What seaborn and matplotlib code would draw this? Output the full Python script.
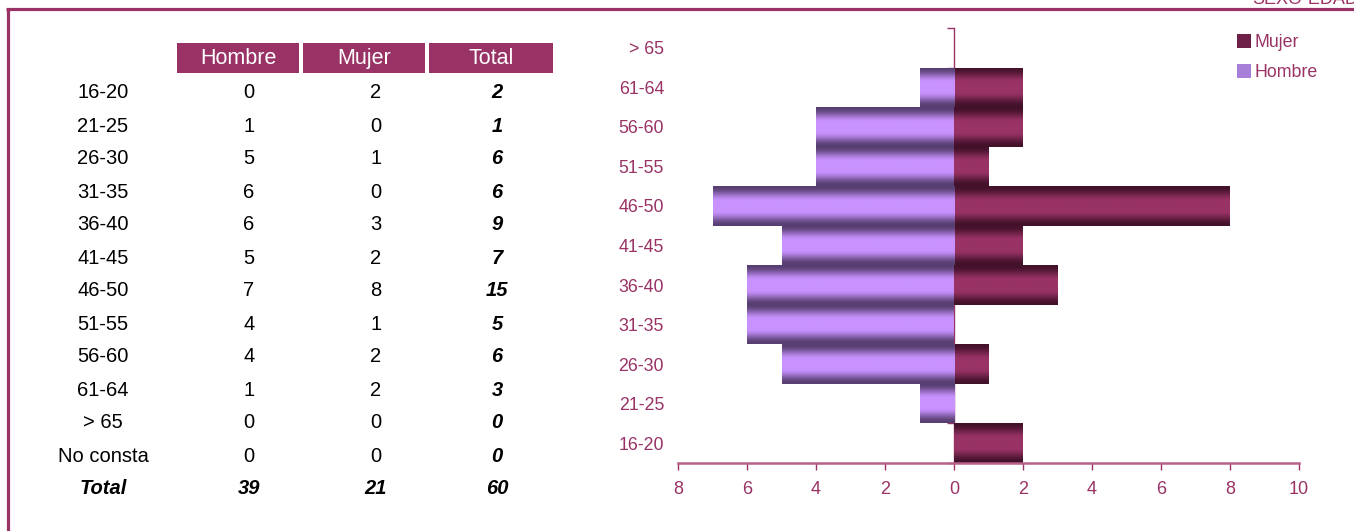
import numpy as np
import pandas as pd
import matplotlib
matplotlib.use("Agg")
import matplotlib.pyplot as plt
from matplotlib.patches import Rectangle
from matplotlib.lines import Line2D
from matplotlib.colors import to_rgb, to_hex
import seaborn as sns

# ---------------- data ----------------
edades = ["16-20", "21-25", "26-30", "31-35", "36-40", "41-45", "46-50",
          "51-55", "56-60", "61-64", "> 65", "No consta"]
hombres = [0, 1, 5, 6, 6, 5, 7, 4, 4, 1, 0, 0]
mujeres = [2, 0, 1, 0, 3, 2, 8, 1, 2, 2, 0, 0]
totales = [2, 1, 6, 6, 9, 7, 15, 5, 6, 3, 0, 0]
total_row = ["Total", 39, 21, 60]
columnas = ["Hombre", "Mujer", "Total"]
x_ticks = [-8, -6, -4, -2, 0, 2, 4, 6, 8, 10]

MAG = "#993366"
W, H = 1354, 531

sns.set_theme(style="white")
plt.rcParams["font.family"] = ["Liberation Sans", "DejaVu Sans"]

fig = plt.figure(figsize=(W / 100, H / 100), dpi=100)

def fx(px):
    return px / W

def fy(py):
    return 1 - py / H

# ---------------- frame ----------------
fig.add_artist(Line2D([fx(7.5), fx(7.5)], [0, fy(8.5)], color=MAG, lw=2.3,
                      transform=fig.transFigure, solid_capstyle="butt"))
fig.add_artist(Line2D([fx(6.3), 1], [fy(8.5), fy(8.5)], color=MAG, lw=2.3,
                      transform=fig.transFigure, solid_capstyle="butt"))
fig.text(fx(1252), fy(-1), "SEXO-EDAD", color=MAG, fontsize=13,
         ha="left", va="center")

# ---------------- table ----------------
box_x = [(177, 299), (303, 425), (429, 553)]
for (x0, x1), name in zip(box_x, columnas):
    fig.add_artist(Rectangle((fx(x0), fy(73)), (x1 - x0) / W, 30 / H,
                             transform=fig.transFigure, color=MAG, lw=0))
    fig.text(fx((x0 + x1) / 2), fy(58.5), name, color="white", fontsize=15.5,
             ha="center", va="center")

col_x = [103, 249, 376, 497]
row_y0, row_dy = 93, 33
for i, (e, h, m, t) in enumerate(zip(edades, hombres, mujeres, totales)):
    y = fy(row_y0 + i * row_dy)
    fig.text(fx(col_x[0]), y, e, fontsize=14.5, ha="center", va="center", color="black")
    fig.text(fx(col_x[1]), y, str(h), fontsize=14.5, ha="center", va="center", color="black")
    fig.text(fx(col_x[2]), y, str(m), fontsize=14.5, ha="center", va="center", color="black")
    fig.text(fx(col_x[3]), y, str(t), fontsize=14.5, ha="center", va="center",
             color="black", fontweight="bold", fontstyle="italic")
y = fy(row_y0 + len(edades) * row_dy)
for cx, v in zip(col_x, total_row):
    fig.text(fx(cx), y, str(v), fontsize=14.5, ha="center", va="center",
             color="black", fontweight="bold", fontstyle="italic")

# ---------------- pyramid chart ----------------
chart_ages = edades[:11]
df = pd.DataFrame({
    "Edad": chart_ages * 2,
    "Sexo": ["Mujer"] * 11 + ["Hombre"] * 11,
    "Valor": mujeres[:11] + [-v for v in hombres[:11]],
})
palette = {"Mujer": MAG, "Hombre": "#cc99ff"}
ax = fig.add_axes([fx(678), fy(463), (1299 - 678) / W, (463 - 28) / H])
sns.barplot(data=df, x="Valor", y="Edad", hue="Sexo", order=chart_ages[::-1],
            hue_order=["Mujer", "Hombre"], palette=palette, dodge=False,
            width=1.0, orient="h", ax=ax, linewidth=0, saturation=1)

# cylinder-like shading clipped to each bar
grad_cols = {
    to_hex(MAG): (to_rgb("#43112a"), to_rgb("#993366")),
    to_hex("#cc99ff"): (to_rgb("#583f72"), to_rgb("#c993ff")),
}
t = np.linspace(0, 1, 200)
d = np.minimum(t, 1 - t)
s = np.clip((d - 0.02) / 0.36, 0, 1)
prof = s * s * (3 - 2 * s)
for p in list(ax.patches):
    fc = to_hex(p.get_facecolor())
    if fc not in grad_cols or p.get_width() == 0:
        continue
    dark, light = np.array(grad_cols[fc][0]), np.array(grad_cols[fc][1])
    img = dark[None, :] + (light - dark)[None, :] * prof[:, None]
    img = np.repeat(img[:, None, :], 2, axis=1)
    x0 = p.get_x()
    x1 = x0 + p.get_width()
    y0 = p.get_y()
    y1 = y0 + p.get_height()
    im = ax.imshow(img, extent=(min(x0, x1), max(x0, x1), max(y0, y1), min(y0, y1)),
                   aspect="auto", interpolation="bilinear", zorder=p.get_zorder() + 0.1)
    im.set_clip_path(p)

ax.set_xlim(-8, 10)
ax.set_ylim(10.5, -0.5)
ax.set_xticks(x_ticks)
ax.set_xticklabels([str(abs(v)) for v in x_ticks])
ax.set_xlabel("")
ax.set_ylabel("")
ax.tick_params(axis="x", colors=MAG, labelsize=13, length=5, width=1,
               direction="out", pad=8, bottom=True)
ax.tick_params(axis="y", colors=MAG, labelsize=12.8, length=0, pad=10)
for s_ in ["top", "right", "left"]:
    ax.spines[s_].set_visible(False)
ax.spines["bottom"].set_color("#b8608a")
ax.spines["bottom"].set_linewidth(1.8)
ax.grid(False)

sec = ax.secondary_yaxis(8 / 18)
sec.set_yticks(np.arange(-0.5, 11, 1))
sec.set_yticklabels([])
sec.tick_params(axis="y", length=5, width=1, color=MAG, direction="out")
sec.spines["left"].set_color(MAG)
sec.spines["left"].set_linewidth(1)

leg = ax.legend(loc="upper left", bbox_to_anchor=(fx(1228), fy(25)),
                bbox_transform=fig.transFigure, frameon=False, fontsize=12.8,
                handlelength=0.8, handleheight=0.8, handletextpad=0.2,
                labelspacing=0.75, borderpad=0)
leg_cols = {"Mujer": "#6e2046", "Hombre": "#a87fd8"}
for txt, hdl in zip(leg.get_texts(), leg.legend_handles):
    txt.set_color(MAG)
    hdl.set_facecolor(leg_cols[txt.get_text()])
    hdl.set_edgecolor("none")

fig.savefig("out.png", dpi=100)
